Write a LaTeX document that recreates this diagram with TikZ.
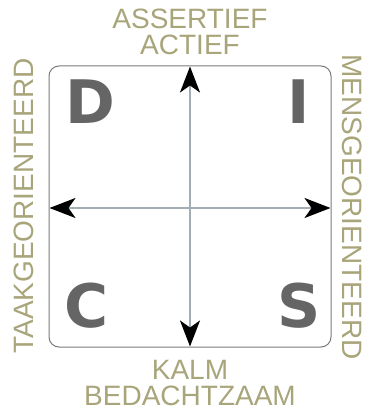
\documentclass[tikz,border=0pt]{standalone}
\usepackage{fontspec}
\setmainfont{Liberation Sans}
\newfontfamily\bigletter{DejaVu Sans}
\usetikzlibrary{arrows.meta}
\definecolor{olive}{HTML}{A8A57B}
\definecolor{lettergray}{HTML}{656565}
\definecolor{axisgray}{HTML}{A3ADB4}
\definecolor{boxgray}{HTML}{7A7A7A}
\tikzset{
  lbl/.style={text=olive, font=\fontsize{28}{26}\selectfont, inner sep=0pt, align=center},
  letter/.style={text=lettergray, font=\bigletter\bfseries\fontsize{60}{60}\selectfont, inner sep=0pt},
  axis/.style={draw=axisgray, line width=2pt, -{Stealth[length=26pt,width=20pt,inset=7pt,fill=black,color=black]}},
  frame/.style={draw=boxgray, line width=1pt, rounded corners=10pt}
}
\begin{document}
\begin{tikzpicture}[x=1pt,y=-1pt]
\useasboundingbox (0,0) rectangle (366,414);
\draw[frame] (49,66) rectangle (331,347);
\coordinate (c) at (190,208);
\coordinate (top) at (190,66.5);
\coordinate (bottom) at (190,346.5);
\coordinate (left) at (49.5,208);
\coordinate (right) at (330.5,208);
\draw[axis] (c) -- (top);
\draw[axis] (c) -- (bottom);
\draw[axis] (c) -- (left);
\draw[axis] (c) -- (right);
\node[letter, anchor=base west] (D) at (65,124) {D};
\node[letter, anchor=base east] (I) at (310,124) {I};
\node[letter, anchor=base west] (C) at (64,327) {C};
\node[letter, anchor=base east] (S) at (321,327) {S};
\node[lbl, anchor=base] (up) at (190,55) {ASSERTIEF\\ACTIEF};
\node[lbl, anchor=base] (down) at (190,405) {KALM\\BEDACHTZAAM};
\node[lbl, rotate=90, anchor=base] (task) at (33,206) {TAAKGEORIENTEERD};
\node[lbl, rotate=-90, anchor=base] (people) at (342,207) {MENSGEORIENTEERD};
\end{tikzpicture}
\end{document}
